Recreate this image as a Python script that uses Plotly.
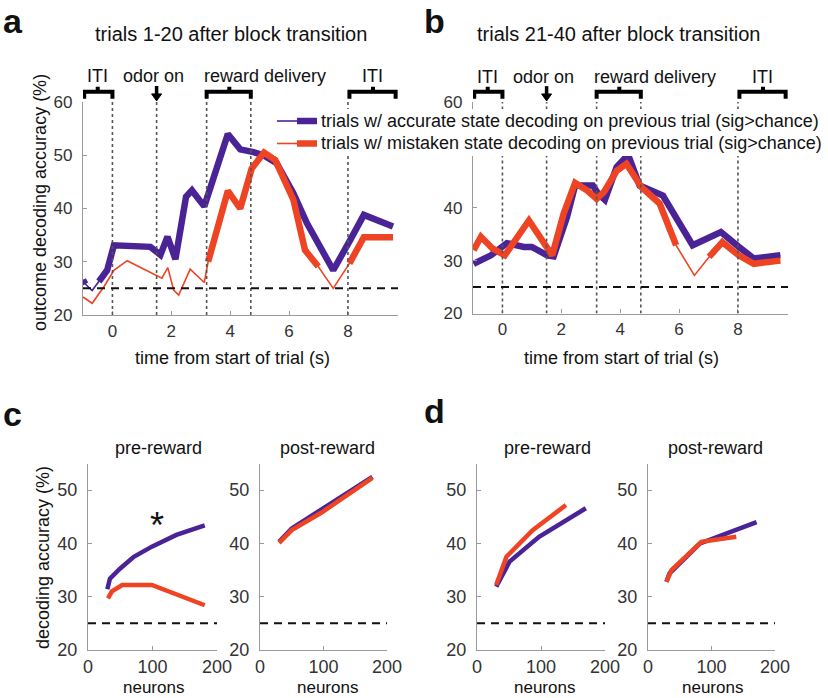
import plotly.graph_objects as go

# ---------------- data ----------------
PURPLE = "#4A2496"
RED = "#EE4423"
CHANCE = 25

# panel a: trials 1-20 after block transition
a_acc_t = [-1.0, -0.92, -0.69, -0.46, -0.18, 0.05, 0.5, 0.95, 1.29, 1.63, 1.87, 2.14, 2.5, 2.7, 3.12, 3.92, 4.34, 4.79, 5.13, 5.58, 6.14, 6.6, 7.5, 8.07, 8.54, 9.53]
a_acc_v = [26.6, 25.8, 24.6, 26.3, 28.4, 33.1, 33.0, 33.1, 32.8, 31.3, 34.7, 30.5, 42.2, 43.4, 40.4, 54.0, 51.1, 50.6, 50.0, 48.5, 42.9, 37.3, 28.4, 34.0, 38.8, 36.6]
a_acc_sig = [1, 1, 0, 1, 1, 1, 1, 1, 1, 1, 1, 1, 1, 1, 1, 1, 1, 1, 1, 1, 1, 1, 1, 1, 1, 1]

a_mis_t = [-1.0, -0.69, -0.29, 0.05, 0.5, 1.52, 1.68, 1.88, 2.08, 2.25, 2.64, 3.12, 3.25, 3.92, 4.34, 4.73, 5.15, 5.53, 6.15, 6.54, 6.99, 7.5, 8.05, 8.54, 9.53]
a_mis_v = [23.4, 22.2, 25.3, 28.4, 30.2, 27.3, 26.9, 28.9, 24.7, 23.75, 28.6, 26.1, 30.0, 43.3, 40.0, 47.5, 50.5, 49.1, 41.6, 32.2, 29.1, 25.0, 29.7, 34.6, 34.6]
a_mis_sig = [0, 0, 0, 0, 0, 0, 0, 0, 0, 0, 0, 0, 1, 1, 1, 1, 1, 1, 1, 1, 1, 0, 1, 1, 1]

# panel b: trials 21-40 after block transition
b_acc_t = [-0.98, -0.39, 0.15, 0.73, 1.0, 1.52, 1.74, 2.19, 2.47, 3.07, 3.26, 3.48, 3.88, 4.27, 4.66, 5.1, 5.45, 6.46, 7.42, 8.03, 8.54, 9.44]
b_acc_v = [29.4, 31.0, 33.3, 32.6, 32.6, 31.0, 30.8, 38.2, 44.2, 44.2, 42.6, 41.5, 47.7, 50.0, 44.2, 43.0, 42.3, 32.9, 35.4, 32.6, 30.4, 31.0]
b_acc_sig = [1] * len(b_acc_t)

b_mis_t = [-0.98, -0.73, -0.34, 0.08, 0.9, 1.69, 2.08, 2.47, 2.87, 3.2, 3.45, 3.88, 4.21, 4.72, 5.34, 5.9, 6.52, 7.02, 7.47, 8.03, 8.54, 9.44]
b_mis_v = [32.0, 34.5, 32.3, 31.0, 37.6, 31.0, 38.9, 44.7, 43.3, 41.7, 43.0, 47.0, 48.3, 43.9, 40.8, 32.9, 27.2, 30.7, 33.5, 31.0, 29.4, 30.0]
b_mis_sig = [1, 1, 1, 1, 1, 1, 1, 1, 1, 1, 1, 1, 1, 1, 1, 1, 0, 1, 1, 1, 1, 1]

# panel c/d: decoding accuracy vs number of neurons
c_pre_acc_n = [30, 34, 50, 71, 99, 137, 181]
c_pre_acc_v = [31.4, 33.4, 35.3, 37.5, 39.4, 41.6, 43.4]
c_pre_mis_n = [31, 37, 53, 99, 181]
c_pre_mis_v = [29.7, 31.0, 32.2, 32.2, 28.4]
c_post_acc_n = [30, 50, 97, 177]
c_post_acc_v = [40.3, 42.8, 46.4, 52.5]
c_post_mis_n = [30, 50, 97, 177]
c_post_mis_v = [40.1, 42.5, 45.8, 52.3]
d_pre_acc_n = [30, 51, 97, 170]
d_pre_acc_v = [31.9, 36.6, 41.25, 46.6]
d_pre_mis_n = [30, 46, 87, 139]
d_pre_mis_v = [32.2, 37.5, 42.5, 47.2]
d_post_acc_n = [29, 34, 82, 171]
d_post_acc_v = [32.8, 34.4, 40.0, 44.0]
d_post_mis_n = [29, 37, 84, 139]
d_post_mis_v = [32.8, 35.0, 40.3, 41.25]

event_times = [0, 1.5, 3.2, 4.7, 8]
time_ticks = [0, 2, 4, 6, 8]
acc_ticks_a = [20, 30, 40, 50, 60]
acc_ticks_b = [20, 30, 40, 60]
neuron_ticks = [0, 100, 200]
acc_ticks_cd = [20, 30, 40, 50]

legend_labels = ["trials w/ accurate state decoding on previous trial (sig>chance)",
                 "trials w/ mistaken state decoding on previous trial (sig>chance)"]

# ---------------- figure ----------------
W, H = 828, 698
FONT = "Liberation Sans, Arial, sans-serif"
fig = go.Figure()


def px_x(p):
    return p / W


def px_y(p):
    return 1 - p / H


def add_sig_line(t, v, sig, color, axis):
    xa, ya = axis
    fig.add_trace(go.Scatter(x=t, y=v, mode="lines", line=dict(color=color, width=1.6),
                             xaxis=xa, yaxis=ya, showlegend=False, hoverinfo="skip"))
    vt = [vv if s else None for vv, s in zip(v, sig)]
    fig.add_trace(go.Scatter(x=t, y=vt, mode="lines", line=dict(color=color, width=6.5),
                             connectgaps=False, xaxis=xa, yaxis=ya, showlegend=False))


# panel a (x, y) / panel b (x2, y2)
add_sig_line(a_acc_t, a_acc_v, a_acc_sig, PURPLE, ("x", "y"))
add_sig_line(a_mis_t, a_mis_v, a_mis_sig, RED, ("x", "y"))
add_sig_line(b_acc_t, b_acc_v, b_acc_sig, PURPLE, ("x2", "y2"))
add_sig_line(b_mis_t, b_mis_v, b_mis_sig, RED, ("x2", "y2"))

small = [
    ("x3", "y3", c_pre_acc_n, c_pre_acc_v, c_pre_mis_n, c_pre_mis_v),
    ("x4", "y4", c_post_acc_n, c_post_acc_v, c_post_mis_n, c_post_mis_v),
    ("x5", "y5", d_pre_acc_n, d_pre_acc_v, d_pre_mis_n, d_pre_mis_v),
    ("x6", "y6", d_post_acc_n, d_post_acc_v, d_post_mis_n, d_post_mis_v),
]
for xa, ya, an, av, mn, mv in small:
    fig.add_trace(go.Scatter(x=an, y=av, mode="lines", line=dict(color=PURPLE, width=4.5),
                             xaxis=xa, yaxis=ya, showlegend=False))
    fig.add_trace(go.Scatter(x=mn, y=mv, mode="lines", line=dict(color=RED, width=4.5),
                             xaxis=xa, yaxis=ya, showlegend=False))

AX = dict(showgrid=False, zeroline=False, showline=True, linecolor="#9a9a9a", linewidth=1.2,
          ticks="inside", ticklen=4, tickcolor="#9a9a9a", mirror=False, automargin=False)

domains = {
    1: ([83, 398], [315, 102]),
    2: ([473, 788], [313.5, 102]),
    3: ([88, 217], [650, 463.5]),
    4: ([260, 387], [650, 463.5]),
    5: ([477, 605], [650, 463.5]),
    6: ([648, 775], [650, 463.5]),
}
layout = {}
for i, (dx, dy) in domains.items():
    sx = "" if i == 1 else str(i)
    xd = [px_x(dx[0]), px_x(dx[1])]
    yd = [px_y(dy[0]), px_y(dy[1])]
    if i <= 2:
        xr, yr = [-1, 9.7], [20, 60]
        xt, yt = time_ticks, (acc_ticks_a if i == 1 else acc_ticks_b)
        fs = 17
    else:
        xr, yr = [0, 200], [20, 55]
        xt, yt = neuron_ticks, acc_ticks_cd
        fs = 18
    tf = dict(family=FONT, size=fs, color="#333333")
    layout["xaxis" + sx] = dict(AX, domain=xd, range=xr, tickvals=xt, anchor="y" + sx,
                                ticklabelstandoff=0, tickfont=tf)
    layout["yaxis" + sx] = dict(AX, domain=yd, range=yr, tickvals=yt, anchor="x" + sx,
                                ticklabelstandoff=6, tickfont=tf)

shapes = []
annotations = []

# event lines, chance lines, brackets for panels a and b
for sx in ["", "2"]:
    xr_, yr_ = "x" + sx, "y" + sx
    for et in event_times:
        shapes.append(dict(type="line", xref=xr_, yref=yr_, x0=et, x1=et, y0=20, y1=60,
                           line=dict(color="#555555", width=1.6, dash="dot")))
    shapes.append(dict(type="line", xref=xr_, yref=yr_, x0=-1, x1=9.7, y0=CHANCE, y1=CHANCE,
                       line=dict(color="#111111", width=2, dash="8px,6px")))
    ydom = yr_ + " domain"
    for (x0, x1, xm) in [(-0.96, 0.0, -0.5), (3.2, 4.7, 3.97), (8.05, 9.62, 8.85)]:
        path = (f"M {x0},1.015 L {x0},1.048 L {x1},1.048 L {x1},1.015 "
                f"M {xm},1.048 L {xm},1.072")
        shapes.append(dict(type="path", xref=xr_, yref=ydom, path=path,
                           line=dict(color="black", width=4)))
    for txt_, xx in [("ITI", -0.5), ("odor on", 1.39), ("reward delivery", 5.17), ("ITI", 8.85)]:
        annotations.append(dict(text=txt_, xref=xr_, yref=ydom, x=xx, y=1.12, showarrow=False,
                                font=dict(family=FONT, size=18, color="#111111"),
                                xanchor="center", yanchor="middle"))
    # downward arrow marking odor onset
    shapes.append(dict(type="line", xref=xr_, yref=ydom, x0=1.5, x1=1.5, y0=1.035, y1=1.075,
                       line=dict(color="black", width=3.5)))
    shapes.append(dict(type="path", xref=xr_, yref=ydom,
                       path="M 1.33,1.038 L 1.67,1.038 L 1.5,1.005 Z",
                       fillcolor="black", line=dict(color="black", width=1)))

# chance lines in small panels
for sx in ["3", "4", "5", "6"]:
    shapes.append(dict(type="line", xref="x" + sx, yref="y" + sx, x0=0, x1=200, y0=CHANCE, y1=CHANCE,
                       line=dict(color="#111111", width=2, dash="8px,6px")))

# legend box (white, covers what is under it)
shapes.append(dict(type="rect", xref="paper", yref="paper", layer="above",
                   x0=px_x(274), x1=px_x(827), y0=px_y(156), y1=px_y(109),
                   fillcolor="white", line=dict(width=0)))
for row_y, col, lab in [(121, PURPLE, legend_labels[0]), (143.5, RED, legend_labels[1])]:
    shapes.append(dict(type="line", xref="paper", yref="paper", layer="above",
                       x0=px_x(277), x1=px_x(298), y0=px_y(row_y), y1=px_y(row_y),
                       line=dict(color=col, width=1.6)))
    shapes.append(dict(type="line", xref="paper", yref="paper", layer="above",
                       x0=px_x(297), x1=px_x(317), y0=px_y(row_y), y1=px_y(row_y),
                       line=dict(color=col, width=6.5)))
    annotations.append(dict(text=lab, xref="paper", yref="paper", x=px_x(319), y=px_y(row_y),
                            xanchor="left", yanchor="middle", showarrow=False,
                            font=dict(family=FONT, size=18, color="#111111")))


def txt(s, x, y, size, angle=0, bold=False, color="#111111", yanchor="middle"):
    annotations.append(dict(text=("<b>%s</b>" % s) if bold else s, xref="paper", yref="paper",
                            x=px_x(x), y=px_y(y), xanchor="center", yanchor=yanchor,
                            showarrow=False, textangle=angle,
                            font=dict(family=FONT, size=size, color=color)))


# panel letters
txt("a", 13, 0, 34, bold=True, yanchor="top")
txt("b", 434, 0, 34, bold=True, yanchor="top")
txt("c", 12, 414, 34, bold=True)
txt("d", 434, 411, 34, bold=True)
# titles
txt("trials 1-20 after block transition", 231, 34, 20)
txt("trials 21-40 after block transition", 618, 34, 20)
txt("pre-reward", 158, 448, 18)
txt("post-reward", 327, 448, 18)
txt("pre-reward", 547, 448, 18)
txt("post-reward", 715, 448, 18)
# axis titles
txt("time from start of trial (s)", 232, 358, 18)
txt("time from start of trial (s)", 621, 358, 18)
txt("outcome decoding accuracy (%)", 40, 203, 18, angle=-90)
txt("decoding accuracy (%)", 43, 558, 18, angle=-90)
for xc in [153, 327, 544, 712]:
    txt("neurons", xc, 687, 17)

# asterisk for significant difference
annotations.append(dict(text="*", xref="x3", yref="y3", x=107, y=44.7, yshift=-7, showarrow=False,
                        xanchor="center", yanchor="middle",
                        font=dict(family=FONT, size=36, color="#111111")))

fig.update_layout(width=W, height=H, margin=dict(l=0, r=0, t=0, b=0),
                  paper_bgcolor="white", plot_bgcolor="white", showlegend=False,
                  shapes=shapes, annotations=annotations, **layout)

fig.write_html("out.html", config={"displayModeBar": False},
               post_script="document.body.style.margin='0';document.body.style.overflow='hidden';")
